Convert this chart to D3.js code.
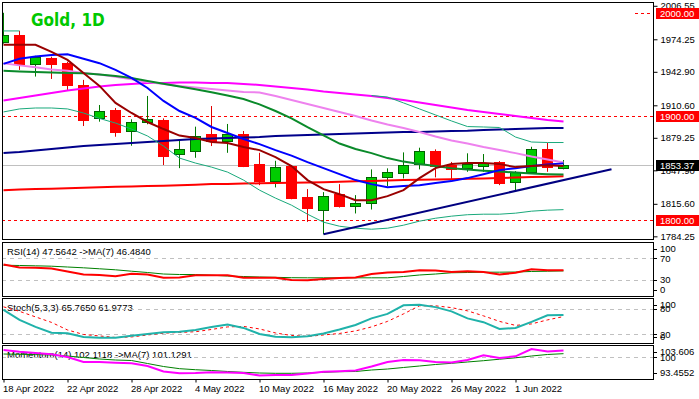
<!DOCTYPE html>
<html>
<head>
<meta charset="utf-8">
<script src="https://cdnjs.cloudflare.com/ajax/libs/d3/7.8.5/d3.min.js"></script>
<style>
  body { margin: 0; background: #fff; }
  svg { display: block; font-family: "Liberation Sans", Arial, sans-serif; }
</style>
</head>
<body>
<div id="chart"></div>
<script>
// bars (daily)
const DATES = ["18 Apr 2022","19 Apr 2022","20 Apr 2022","21 Apr 2022","22 Apr 2022","25 Apr 2022","26 Apr 2022","27 Apr 2022","28 Apr 2022","29 Apr 2022",
  "2 May 2022","3 May 2022","4 May 2022","5 May 2022","6 May 2022","9 May 2022","10 May 2022","11 May 2022","12 May 2022","13 May 2022",
  "16 May 2022","17 May 2022","18 May 2022","19 May 2022","20 May 2022","23 May 2022","24 May 2022","25 May 2022","26 May 2022","27 May 2022",
  "30 May 2022","31 May 2022","1 Jun 2022","2 Jun 2022","3 Jun 2022","6 Jun 2022"]
const TICK_BARS = [0, 4, 8, 12, 16, 20, 24, 28, 32]

const OPEN = [1972.1,1978.6,1950.2,1956.0,1951.5,1930.2,1898.1,1906.1,1885.8,1894.8,1896.4,1863.3,1866.8,1882.9,1876.4,1882.6,1853.6,1837.8,1852.0,1821.7,1810.1,1824.9,1813.6,1816.0,1841.1,1844.9,1853.6,1866.5,1852.9,1849.8,1852.0,1855.8,1836.8,1846.5,1868.1,1849.8]
const HIGH = [1999.8,1982.4,1958.3,1957.5,1952.5,1935.1,1910.9,1908.0,1897.1,1919.6,1898.0,1877.1,1890.0,1909.9,1892.6,1885.8,1864.8,1857.1,1853.0,1829.8,1826.9,1834.6,1824.0,1848.8,1849.8,1865.2,1869.7,1868.1,1856.0,1864.3,1863.6,1856.8,1847.1,1870.6,1874.5,1857.8]
const LOW = [1970.0,1944.7,1938.3,1936.0,1925.4,1890.6,1894.8,1880.3,1871.6,1892.3,1853.0,1850.0,1860.0,1871.3,1864.8,1851.0,1833.6,1831.4,1820.0,1798.2,1786.3,1812.0,1806.3,1810.1,1832.7,1840.1,1848.8,1841.1,1839.1,1846.5,1846.5,1833.6,1828.0,1844.9,1846.5,1848.8]
const CLOSE = [1978.6,1950.2,1957.0,1950.5,1930.2,1896.4,1905.1,1885.1,1894.2,1897.4,1861.9,1868.4,1881.0,1876.1,1882.6,1852.0,1837.8,1851.3,1820.8,1811.1,1823.3,1813.3,1816.0,1841.1,1845.9,1852.9,1866.5,1852.3,1849.1,1853.6,1854.6,1835.8,1845.9,1868.1,1850.7,1853.37]

// moving averages on price
const MA_MAROON = [1968.9,1968.9,1968.9,1962.1,1954.4,1941.8,1929.3,1912.9,1903.2,1894.5,1887.7,1881.4,1879.0,1875.2,1874.2,1870.3,1867.4,1860.7,1852.0,1838.5,1829.8,1824.9,1819.1,1819.1,1823.0,1828.8,1840.4,1850.0,1853.9,1854.9,1854.9,1853.9,1851.0,1852.0,1852.9,1852.0]
const MA_BLUE = [1950.5,1955.4,1957.6,1959.2,1959.7,1955.4,1951.2,1944.7,1937.0,1927.3,1914.8,1905.1,1898.4,1889.7,1883.9,1878.1,1873.2,1867.4,1862.1,1855.8,1850.0,1844.2,1838.5,1834.6,1831.7,1832.7,1833.6,1835.6,1837.5,1840.4,1844.2,1848.1,1850.0,1852.0,1853.4,1854.6]
const MA_GREEN = [1943.8,1943.3,1942.8,1942.3,1941.8,1941.4,1940.4,1938.9,1937.0,1934.1,1931.4,1928.8,1926.1,1923.2,1920.1,1916.7,1911.5,1905.1,1898.0,1889.5,1881.5,1873.7,1868.4,1864.5,1859.7,1856.3,1853.9,1852.0,1850.0,1848.6,1847.6,1846.7,1845.7,1844.9,1844.2,1843.8]
const MA_VIOLET = [1951.2,1949.1,1947.2,1945.2,1943.8,1941.8,1940.4,1938.0,1935.6,1933.1,1931.2,1929.3,1927.8,1926.4,1924.9,1923.5,1923.0,1919.6,1915.7,1911.9,1908.0,1904.1,1900.3,1895.9,1892.1,1888.7,1884.8,1880.5,1876.6,1873.7,1870.3,1867.4,1864.5,1861.2,1858.3,1855.4]
const MA_MAGENTA = [1915.3,1917.7,1920.1,1922.5,1924.9,1926.9,1928.8,1930.2,1931.2,1932.2,1932.2,1932.7,1932.7,1932.2,1932.2,1931.2,1930.2,1928.8,1927.3,1925.9,1923.9,1922.5,1921.0,1919.6,1917.7,1915.7,1913.3,1910.9,1908.5,1906.1,1904.1,1902.2,1900.3,1898.4,1896.4,1895.0]
const MA_NAVY = [1864.5,1865.5,1867.0,1868.4,1869.9,1871.3,1872.3,1873.2,1874.2,1875.2,1876.1,1877.1,1878.1,1878.5,1879.0,1879.5,1880.0,1881.0,1881.4,1881.9,1882.4,1882.9,1883.4,1883.9,1884.3,1884.8,1884.8,1885.3,1885.8,1886.1,1886.8,1887.2,1887.7,1888.2,1888.7,1888.7]
const MA_RED = [1828.8,1829.3,1829.8,1830.2,1830.7,1831.2,1831.7,1832.0,1832.4,1832.7,1833.1,1833.6,1834.1,1834.6,1834.8,1835.1,1835.4,1835.6,1835.8,1836.1,1836.5,1837.0,1837.3,1837.5,1838.0,1838.5,1838.7,1839.1,1839.4,1839.7,1840.1,1840.4,1840.9,1841.4,1841.8,1842.3]
const BAND_UPPER = [1982.3,1982.3,null,null,null,null,null,null,null,null,null,null,null,null,null,null,null,null,null,null,null,null,null,1920.0,1918.6,1912.9,1907.1,1901.3,1895.5,1890.1,1889.7,1889.2,1880.0,1875.2,1874.7,1874.7]
const BAND_LOWER = [1904.2,1907.1,1908.0,1908.0,1907.1,1903.2,1897.9,1893.5,1887.7,1881.0,1871.3,1859.7,1854.9,1851.0,1846.2,1838.5,1828.8,1821.1,1814.3,1805.6,1797.9,1794.0,1792.1,1791.1,1792.1,1795.0,1798.9,1801.7,1803.7,1805.1,1805.6,1805.6,1806.6,1808.5,1809.5,1810.0]

// chart objects
const PRICE_TICKS = [2006.55, 1974.25, 1942.90, 1910.60, 1879.25, 1847.90, 1815.60, 1784.25]
const LEVELS = [1900, 1800]
const LEVEL_2000 = 2000
const LAST_PRICE = 1853.37
const TREND_BARS = [20, 38]
const TREND_PRICES = [1786.3, 1848.9]

// indicators
const RSI = [58.3,52.8,52.2,50.9,45.4,39.8,38.9,36.7,41.1,39.8,33.7,34.3,38.5,38.5,38.5,33.7,33.7,33.7,29.6,29.3,31.5,33.3,34.3,40.7,43.5,44.4,47.8,47.2,44.4,45.9,44.4,39.8,43.0,49.6,47.8,47.56]
const RSI_MA = [57.0,56.5,55.9,55.2,53.7,52.2,50.4,48.5,45.9,43.5,40.7,39.8,39.8,38.5,37.0,36.1,35.2,34.6,33.9,33.7,33.7,33.7,33.7,33.7,33.7,36.1,38.9,40.7,43.0,43.5,44.1,44.1,44.4,45.4,45.9,46.48]
const STOCH_K = [77.9,54.0,37.4,23.6,22.4,13.6,11.9,11.9,16.4,20.7,24.5,26.2,30.2,37.4,43.3,35.0,20.7,14.0,12.9,15.5,21.9,31.4,42.1,57.6,68.3,88.6,89.8,84.3,74.3,57.6,48.6,32.6,35.0,49.3,64.8,65.77]
const STOCH_D = [85.0,74.3,61.2,48.1,30.2,19.5,16.0,12.4,13.6,18.3,22.6,24.3,26.0,31.4,37.4,38.6,32.6,23.1,17.1,14.8,18.3,21.9,27.9,37.4,50.5,68.3,87.4,87.4,83.1,75.5,63.6,50.5,41.0,44.5,54.0,61.98]
const MOM = [102.24,101.73,101.33,100.94,100.12,98.61,98.61,98.39,98.21,97.39,95.73,95.18,95.27,95.48,95.42,95.27,94.52,94.67,94.67,95.12,95.67,95.82,96.03,97.24,98.61,99.21,99.12,98.61,98.46,99.21,100.64,99.82,100.33,102.55,101.79,102.11]
const MOM_MA = [101.03,100.94,100.85,100.73,100.42,99.97,99.52,99.21,99.06,98.15,97.24,96.58,96.27,96.03,95.73,95.48,95.27,95.18,95.18,95.27,95.48,95.67,95.73,96.18,96.48,96.94,97.39,97.85,98.21,98.61,99.00,99.45,99.88,100.42,100.88,101.13]

const RSI_LABEL = "RSI(14) 47.5642  ->MA(7) 46.4840"
const STOCH_LABEL = "Stoch(5,3,3) 65.7650 61.9773"
const MOM_LABEL = "Momentum(14) 102.1118 ->MA(7) 101.1291"

// layout
const WIDTH = 699, HEIGHT = 399
const LEFT = 2, RIGHT = 653
const MAIN = { top: 2, bottom: 239 }
const P_RSI = { top: 242, bottom: 296 }
const P_STOCH = { top: 298, bottom: 343 }
const P_MOM = { top: 345, bottom: 379 }
const FONT = 9.5

let svg = d3.select("#chart").append("svg")
    .attr("width", WIDTH)
    .attr("height", HEIGHT)

let x = d3.scaleLinear().domain([0, 35]).range([3.5, 563.5])
let yMain = d3.scaleLinear().domain([1781.2, 2010.2]).range([239.5, 2])
let yRsi = d3.scaleLinear().domain([0, 100]).range([296, 242])
let yStoch = d3.scaleLinear().domain([0, 100]).range([342.7, 300.5])
let yMom = d3.scaleLinear().domain([93.4552, 103.606]).range([379, 345.5])

// panel frames + clips
let defs = svg.append("defs")
function panel(p, id) {
    svg.append("rect")
        .attr("x", LEFT + 0.5).attr("y", p.top + 0.5)
        .attr("width", RIGHT - LEFT).attr("height", p.bottom - p.top)
        .attr("fill", "#fff").attr("stroke", "#000")
    defs.append("clipPath").attr("id", id)
        .append("rect")
        .attr("x", LEFT + 1).attr("y", p.top + 1)
        .attr("width", RIGHT - LEFT - 1).attr("height", p.bottom - p.top - 1)
    return svg.append("g").attr("clip-path", "url(#" + id + ")")
}

let gMain = panel(MAIN, "clip-main")
let gRsi = panel(P_RSI, "clip-rsi")
let gStoch = panel(P_STOCH, "clip-stoch")
let gMom = panel(P_MOM, "clip-mom")

function series(g, values, yScale, color, width, dash) {
    let line = d3.line()
        .defined(d => d != null)
        .x((d, i) => x(i))
        .y(d => yScale(d))
    g.append("path")
        .attr("d", line(values))
        .attr("fill", "none")
        .attr("stroke", color)
        .attr("stroke-width", width)
        .attr("stroke-dasharray", dash || null)
}

// ---- main chart ----
gMain.append("text")
    .attr("x", 31).attr("y", 26)
    .attr("fill", "#00c800")
    .style("font-family", "'DejaVu Sans Condensed', 'DejaVu Sans', sans-serif")
    .style("font-stretch", "condensed")
    .style("font-weight", "bold")
    .style("font-size", "17px")
    .text("Gold, 1D")

// last price line
gMain.append("line")
    .attr("x1", LEFT).attr("x2", RIGHT)
    .attr("y1", Math.round(yMain(LAST_PRICE)) + 0.5).attr("y2", Math.round(yMain(LAST_PRICE)) + 0.5)
    .attr("stroke", "#c0c0c0")

// horizontal levels
gMain.selectAll("line.level")
    .data(LEVELS)
    .enter().append("line")
    .attr("class", "level")
    .attr("x1", LEFT).attr("x2", RIGHT)
    .attr("y1", d => Math.round(yMain(d)) + 0.5).attr("y2", d => Math.round(yMain(d)) + 0.5)
    .attr("stroke", "#ff0000").attr("stroke-dasharray", "3,3")
gMain.append("line")
    .attr("x1", 635).attr("x2", RIGHT)
    .attr("y1", Math.round(yMain(LEVEL_2000)) + 0.5).attr("y2", Math.round(yMain(LEVEL_2000)) + 0.5)
    .attr("stroke", "#ff0000").attr("stroke-dasharray", "3,3")

// candles
let bars = OPEN.map((o, i) => ({ i: i, o: o, h: HIGH[i], l: LOW[i], c: CLOSE[i], up: CLOSE[i] >= o }))
let candle = gMain.selectAll("g.candle")
    .data(bars)
    .enter().append("g")
    .attr("class", "candle")
candle.append("line")
    .attr("x1", d => x(d.i)).attr("x2", d => x(d.i))
    .attr("y1", d => yMain(d.h)).attr("y2", d => yMain(d.l))
    .attr("stroke", d => d.up ? "#007800" : "#e00000")
candle.append("rect")
    .attr("x", d => x(d.i) - 5)
    .attr("y", d => Math.round(yMain(Math.max(d.o, d.c))) + 0.5)
    .attr("width", 10)
    .attr("height", d => Math.max(1, Math.round(yMain(Math.min(d.o, d.c))) - Math.round(yMain(Math.max(d.o, d.c)))))
    .attr("fill", d => d.up ? "#00cc00" : "#ff0000")
    .attr("stroke", d => d.up ? "#006400" : "#ff0000")

// MAs and bands
series(gMain, MA_RED, yMain, "#ff0000", 2)
series(gMain, MA_NAVY, yMain, "#00008b", 2)
series(gMain, MA_MAGENTA, yMain, "#ff00ff", 2)
series(gMain, MA_VIOLET, yMain, "#ee82ee", 2)
series(gMain, BAND_UPPER, yMain, "#19a97b", 1)
series(gMain, BAND_LOWER, yMain, "#19a97b", 1)
series(gMain, MA_GREEN, yMain, "#0a8a2a", 2)
series(gMain, MA_BLUE, yMain, "#0000ff", 2)
series(gMain, MA_MAROON, yMain, "#990000", 2)

// trendline
gMain.append("line")
    .attr("x1", x(TREND_BARS[0])).attr("y1", yMain(TREND_PRICES[0]))
    .attr("x2", x(TREND_BARS[1])).attr("y2", yMain(TREND_PRICES[1]))
    .attr("stroke", "#000080").attr("stroke-width", 2)

// price axis
let yAxis = svg.append("g")
    .attr("transform", "translate(" + (RIGHT + 0.5) + ",0)")
    .call(d3.axisRight(yMain).tickValues(PRICE_TICKS).tickSize(4).tickPadding(3).tickFormat(d => d.toFixed(2)))
yAxis.select(".domain").remove()
yAxis.selectAll("text").style("font-size", FONT + "px").attr("fill", "#000")
yAxis.selectAll("line").attr("stroke", "#000")

// price boxes
function priceBox(v, color) {
    let yy = Math.round(yMain(v))
    svg.append("rect")
        .attr("x", 656).attr("y", yy - 5)
        .attr("width", 43).attr("height", 11)
        .attr("fill", color)
    svg.append("text")
        .attr("x", 660).attr("y", yy + 0.5)
        .attr("dy", "0.35em")
        .attr("fill", "#fff")
        .style("font-size", FONT + "px")
        .text(v.toFixed(2))
}
priceBox(LEVEL_2000, "#ff0000")
LEVELS.forEach(v => priceBox(v, "#ff0000"))
priceBox(LAST_PRICE, "#000")

// ---- indicator panels ----
function header(g, p, label) {
    g.append("text")
        .attr("x", 7).attr("y", p.top + 12.5)
        .style("font-size", FONT + "px")
        .attr("fill", "#000")
        .text(label)
}
function levelLines(g, vals, yScale) {
    g.selectAll(null)
        .data(vals)
        .enter().append("line")
        .attr("x1", LEFT).attr("x2", RIGHT)
        .attr("y1", d => Math.round(yScale(d)) + 0.5).attr("y2", d => Math.round(yScale(d)) + 0.5)
        .attr("stroke", "#c0c0c0").attr("stroke-dasharray", "4,4")
}
function scaleLabels(p, vals, yScale) {
    vals.forEach(v => {
        let yy = Math.min(Math.max(yScale(v), p.top + 7), p.bottom - 6)
        svg.append("line")
            .attr("x1", RIGHT).attr("x2", RIGHT + 4)
            .attr("y1", Math.round(yy) + 0.5).attr("y2", Math.round(yy) + 0.5)
            .attr("stroke", "#000")
        svg.append("text")
            .attr("x", 660).attr("y", yy)
            .attr("dy", "0.35em")
            .style("font-size", FONT + "px")
            .attr("fill", "#000")
            .text(v)
    })
}

header(gRsi, P_RSI, RSI_LABEL)
levelLines(gRsi, [70, 30], yRsi)
series(gRsi, RSI_MA, yRsi, "#008000", 1)
series(gRsi, RSI, yRsi, "#ff0000", 2)
scaleLabels(P_RSI, [100, 70, 30, 0], yRsi)

header(gStoch, P_STOCH, STOCH_LABEL)
levelLines(gStoch, [80, 20], yStoch)
series(gStoch, STOCH_D, yStoch, "#ff0000", 1, "3,3")
series(gStoch, STOCH_K, yStoch, "#20b2aa", 2)
scaleLabels(P_STOCH, [100, 80, 20, 0], yStoch)

header(gMom, P_MOM, MOM_LABEL)
levelLines(gMom, [100], yMom)
series(gMom, MOM_MA, yMom, "#008000", 1)
series(gMom, MOM, yMom, "#ff00ff", 2)
scaleLabels(P_MOM, [103.606, 100, 93.4552], yMom)

// ---- time axis ----
let xAxis = svg.append("g")
    .attr("transform", "translate(0," + (P_MOM.bottom + 0.5) + ")")
    .call(d3.axisBottom(x).tickValues(TICK_BARS).tickSize(3).tickFormat(i => DATES[i]))
xAxis.select(".domain").remove()
xAxis.selectAll("line").attr("stroke", "#000")
xAxis.selectAll("text")
    .attr("text-anchor", "start")
    .attr("x", -1)
    .attr("y", 12.3)
    .attr("dy", 0)
    .style("font-size", FONT + "px")
    .attr("fill", "#000")
</script>
</body>
</html>
